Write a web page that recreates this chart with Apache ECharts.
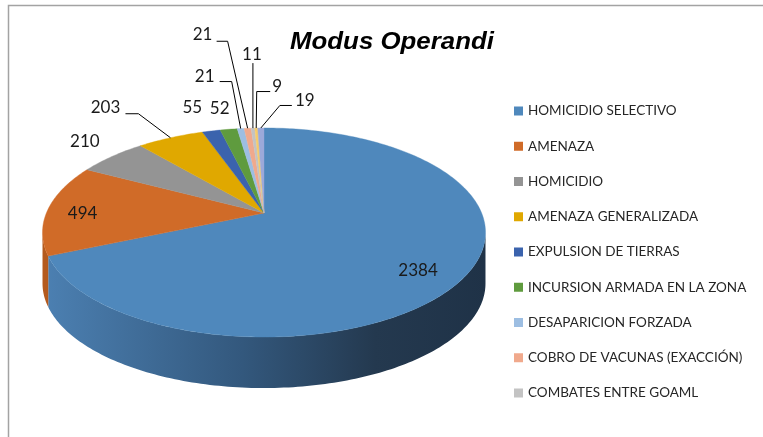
<!DOCTYPE html>
<html><head><meta charset="utf-8">
<script src="https://cdn.jsdelivr.net/npm/echarts@6/dist/echarts.min.js"></script>
<style>html,body{margin:0;padding:0;background:#fff}#c{width:763px;height:437px}</style>
</head><body><div id="c"></div>
<script>
// ---- data ----
const categories = ['HOMICIDIO SELECTIVO','AMENAZA','HOMICIDIO','AMENAZA GENERALIZADA','EXPULSION DE TIERRAS','INCURSION ARMADA EN LA ZONA','DESAPARICION FORZADA','COBRO DE VACUNAS (EXACCIÓN)','COMBATES ENTRE GOAML','OTRO 10','OTRO 11'];
const values = [2384, 494, 210, 203, 55, 52, 21, 21, 11, 9, 19];
const legendCategories = categories.slice(0, 9);
const titleText = 'Modus Operandi';

// ---- style ----
const colors = ['#4F88BC','#D06B28','#949494','#E0A800','#3B63AD','#5F9B3E','#9DBEE2','#F0A98C','#C3C3C3','#F6CB6A','#9CA9D9'];
const wallFills = [
  {type:'linear', x:43, y:0, x2:486, y2:0, global:true, colorStops:[
    {offset:0, color:'#4C80B2'},{offset:0.45, color:'#33587D'},{offset:0.75, color:'#24394F'},{offset:1, color:'#1F3247'}]},
  '#B45A1E','#7a7a7a','#b88a00','#2f4f8a','#4c7c32','#7f99b5','#c68a72','#9c9c9c','#c9a556','#7e8ab0'
];
// label layout: anchor radius, text offset, leader polyline offsets (relative to anchor)
const labelLayout = [
  {r:0.7, t:[17,16]},
  {r:0.83, t:[-2,4]},
  {r:1, t:[-27,-15]},
  {r:1, t:[-65,-30], line:[[-32,-24],[-45,-24]]},
  {r:1, t:[-19,-23]},
  {r:1, t:[-9,-21]},
  {r:1, t:[-36,-52], line:[[-9,-47],[-21,-47]]},
  {r:1, t:[-45,-94], line:[[-20,-87],[-31,-87]]},
  {r:1, t:[-1,-74], line:[[0,-65]]},
  {r:1, t:[21,-41.5], line:[[0.5,-36.5],[14,-36.5]]},
  {r:1, t:[44,-27.5], line:[[19,-22.5],[31,-22.5]]}
];
const CX=264, CY=213, RX=217.6, RY=100.9, K=0.1866, H=51;
function proj(deg, r){
  const t=deg*Math.PI/180; const X=r*Math.sin(t), Z=r*Math.cos(t); const d=1+K*Z;
  return [CX+RX*X/d, CY-RY*Z/d];
}
function arc(a0,a1,r,dy){
  const n=Math.max(2,Math.ceil(Math.abs(a1-a0))+1); const pts=[];
  for(let i=0;i<n;i++){const a=a0+(a1-a0)*i/(n-1); const p=proj(a,r); pts.push([p[0],p[1]+dy]);}
  return pts;
}
const total = values.reduce((a,b)=>a+b,0);
const starts=[]; {let acc=0; values.forEach(v=>{starts.push(acc/total*360); acc+=v;});}
const VIS0 = Math.acos(-K)*180/Math.PI, VIS1 = 360-VIS0;
const labelFont = {fontFamily:'Lato', fontSize:17, fill:'#1a1a1a'};

function renderItem(params, api){
  const i=params.dataIndex; const v=api.value(0);
  const a0=starts[i], a1=a0+v/total*360;
  const children=[];
  const s=Math.max(a0,VIS0), e=Math.min(a1,VIS1);
  if(e>s){
    const top=arc(s,e,1,0), bot=arc(s,e,1,H).reverse();
    children.push({type:'polygon', z2:1, shape:{points:top.concat(bot)}, style:{fill:wallFills[i], stroke:null}});
  }
  children.push({type:'polygon', z2:2, shape:{points:[[CX,CY]].concat(arc(a0,a1,1,0))},
    style:{fill:colors[i], stroke:colors[i], lineWidth:0.4}});
  const L=labelLayout[i]; const mid=(a0+a1)/2; const an=proj(mid,L.r);
  if(L.line){
    const pts=[an].concat(L.line.map(o=>[an[0]+o[0], an[1]+o[1]]));
    children.push({type:'polyline', z2:5, shape:{points:pts}, style:{stroke:'#000', lineWidth:1, fill:null}});
  }
  children.push({type:'text', z2:6, x:an[0]+L.t[0], y:an[1]+L.t[1],
    style:Object.assign({text:String(v), align:'center', verticalAlign:'middle'}, labelFont)});
  return {type:'group', children};
}

const chart = echarts.init(document.getElementById('c'), null, {renderer:'canvas'});
chart.setOption({
  animation:false,
  backgroundColor:'#fff',
  legend:{
    data: legendCategories, orient:'vertical', left:509, top:98, itemWidth:9, itemHeight:9, itemGap:19.25,
    icon:'rect', selectedMode:false,
    textStyle:{fontFamily:'Lato', fontSize:13.5, color:'#262626', lineHeight:16}
  },
  graphic:[
    {type:'rect', shape:{x:8.5, y:5.5, width:900, height:600}, style:{fill:null, stroke:'#A3A3A3', lineWidth:1.5}, z:-1},
    {type:'text', x:290, y:43, scaleX:1.1, style:{text:titleText, align:'left', verticalAlign:'middle',
      fontFamily:'Liberation Sans', fontStyle:'italic', fontWeight:'bold', fontSize:23.5, fill:'#000'}}
  ],
  series:[
    {type:'pie', radius:[0,0], center:[-60,-60], silent:true, label:{show:false}, labelLine:{show:false},
     data: categories.map((n,i)=>({name:n, value:values[i], itemStyle:{color:colors[i]}}))},
    {type:'custom', coordinateSystem:'none', renderItem,
     data: values.map((v,i)=>({name:categories[i], value:[v]}))}
  ]
});
</script></body></html>
